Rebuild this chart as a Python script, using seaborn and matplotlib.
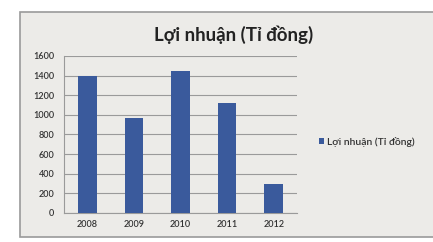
import seaborn as sns
import pandas as pd
import matplotlib.pyplot as plt
from matplotlib.patches import Rectangle

years = ['2008', '2009', '2010', '2011', '2012']
profit = [1400, 970, 1450, 1120, 300]
series_name = 'Lợi nhuận (Tỉ đồng)'

df = pd.DataFrame({'year': years, 'profit': profit})

sns.set_style('white')
plt.rcParams['font.family'] = ['Lato', 'DejaVu Sans']

fig = plt.figure(figsize=(4.33, 2.42), dpi=100)
fig.patch.set_facecolor('white')
# chart frame
fig.patches.append(Rectangle((20 / 433, 0.02), 1.0, 0.93, transform=fig.transFigure,
                             facecolor='#ecebe8', edgecolor='#9a9a9a', linewidth=1.2, zorder=-1))

ax = fig.add_axes([0.148, 0.12, 0.538, 0.649])
ax.set_facecolor('none')
sns.barplot(data=df, x='year', y='profit', color='#3a5a9c', width=0.4, saturation=1, ax=ax,
            zorder=3, label=series_name, linewidth=0)
ax.set_ylim(0, 1600)
ax.set_yticks(range(0, 1601, 200))
ax.set_xlim(-0.5, 4.5)
ax.grid(axis='y', color='#9a9a9a', linewidth=0.8, zorder=0)
ax.set_axisbelow(True)
for s in ['top', 'right']:
    ax.spines[s].set_visible(False)
for s in ['left', 'bottom']:
    ax.spines[s].set_color('#9a9a9a')
    ax.spines[s].set_linewidth(0.8)
ax.set_xticks([i - 0.5 for i in range(6)], minor=True)
ax.tick_params(axis='x', which='major', length=0, labelsize=6.5, pad=5, colors='#333333')
ax.tick_params(axis='x', which='minor', length=3, color='#9a9a9a')
ax.tick_params(axis='y', length=3, color='#9a9a9a', labelsize=6.5, pad=4, colors='#333333')
for lab in ax.get_xticklabels() + ax.get_yticklabels():
    lab.set_fontweight('semibold')
ax.set_xlabel('')
ax.set_ylabel('')

fig.text(0.54, 0.855, series_name, ha='center', va='center', fontsize=13.5, fontweight='bold',
         color='#222222')
leg = ax.legend(loc='center left', bbox_to_anchor=(0.715, 0.415), bbox_transform=fig.transFigure,
                frameon=False, handlelength=0.5, handleheight=0.5, handletextpad=0.3,
                prop={'size': 7.5, 'weight': 'semibold'})
for t in leg.get_texts():
    t.set_color('#333333')

plt.savefig('out.png', dpi=100)
plt.close()
